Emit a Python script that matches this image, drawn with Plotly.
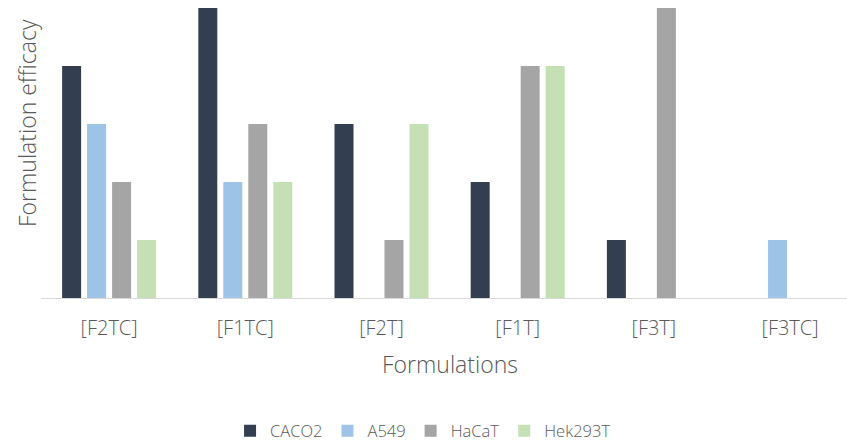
import plotly.graph_objects as go

categories = ["[F2TC]", "[F1TC]", "[F2T]", "[F1T]", "[F3T]", "[F3TC]"]
caco2 = [4, 5, 3, 2, 1, 0]
a549 = [3, 2, 0, 0, 0, 1]
hacat = [2, 3, 1, 4, 5, 0]
hek293t = [1, 2, 3, 4, 0, 0]

series = [
    ("CACO2", caco2, "#333F50"),
    ("A549", a549, "#9DC3E6"),
    ("HaCaT", hacat, "#A5A5A5"),
    ("Hek293T", hek293t, "#C5E0B4"),
]

fig = go.Figure()
for name, vals, color in series:
    fig.add_trace(go.Bar(x=categories, y=vals, name=name, marker_color=color,
                         marker_line_width=0))

W, H = 847, 441
L, R, T, B = 41, 0, 8, 143
PH = H - T - B
BASE = H - B
font = "Open Sans, Noto Sans, sans-serif"
grey = "#595959"
fig.update_layout(
    width=W, height=H,
    margin=dict(l=L, r=R, t=T, b=B, pad=0, autoexpand=False),
    paper_bgcolor="white", plot_bgcolor="white",
    barmode="group", bargap=0.266, bargroupgap=0.24,
    font=dict(family=font, color=grey, size=17),
    showlegend=True,
    legend=dict(orientation="h", x=0.474, xanchor="center",
                yref="container", y=1 - 431 / H, yanchor="middle",
                font=dict(size=16.5, color=grey, weight=300), traceorder="normal"),
    xaxis=dict(range=[-0.5, 5.418], showline=True, linecolor="#D9D9D9", linewidth=1,
               ticks="", showgrid=False, tickfont=dict(size=20, color=grey, weight=300),
               ticklabelstandoff=12, automargin=False, fixedrange=True),
    yaxis=dict(range=[0, 5], showticklabels=False, showgrid=False, zeroline=False,
               ticks="", showline=False, automargin=False, fixedrange=True),
    annotations=[
        dict(text="Formulations", xref="paper", yref="paper", x=(450 - L) / (W - L - R),
             y=(BASE - 364) / PH, xanchor="center", yanchor="middle",
             showarrow=False, font=dict(size=23, color=grey, weight=300)),
        dict(text="Formulation efficacy", xref="paper", yref="paper",
             x=(27 - L) / (W - L - R), y=(BASE - 123) / PH,
             xanchor="center", yanchor="middle", textangle=-90,
             showarrow=False, font=dict(size=23, color=grey, weight=300)),
    ],
)

fig.write_html("out.html")
